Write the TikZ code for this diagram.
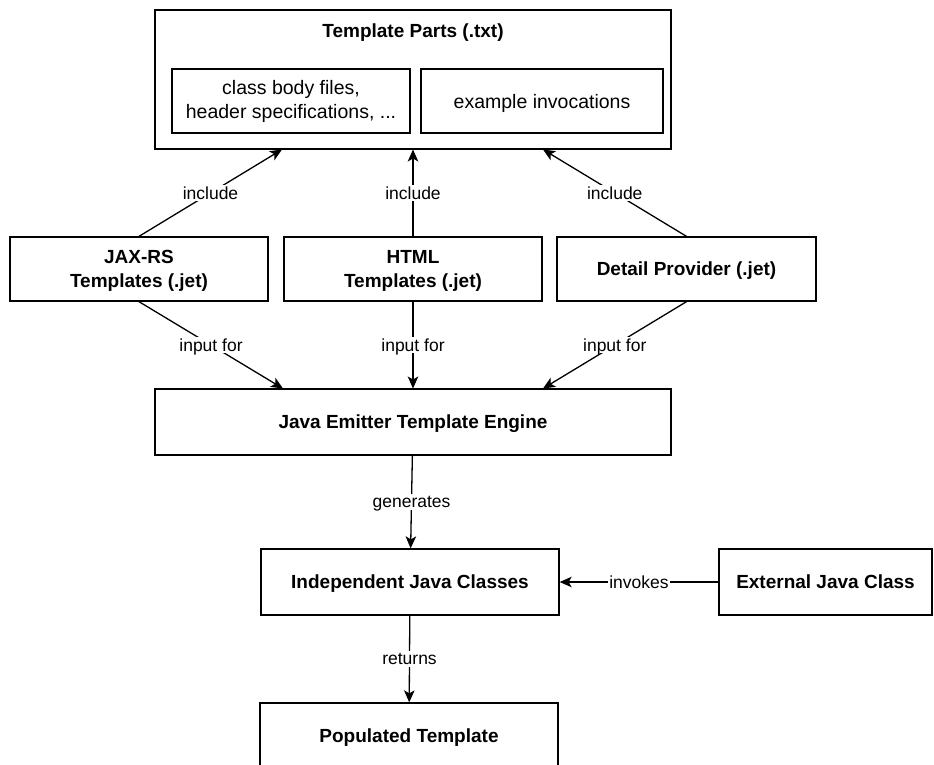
\documentclass[tikz,border=0pt]{standalone}
\usepackage{fontspec}
\setmainfont{Liberation Sans}
\usetikzlibrary{arrows.meta}
\tikzset{
  box/.style={draw=black, line width=1.3pt, fill=white, inner sep=0pt, align=center,
              text depth=0pt, font=\fontsize{19}{23.5}\selectfont\bfseries},
  subbox/.style={draw=black, line width=1.3pt, fill=white, inner sep=0pt, align=center,
              font=\fontsize{19.5}{24}\selectfont},
  link/.style={line width=1.3pt, -{Stealth[length=12pt,width=10.5pt,inset=3pt]}},
  lbl/.style={fill=white, inner sep=2pt, text depth=0pt, font=\fontsize{17.5}{20}\selectfont},
}
\begin{document}
\begin{tikzpicture}[x=1pt,y=-1pt]
\useasboundingbox (0,0) rectangle (934,764);
\clip (0,0) rectangle (934,764);

% template parts container
\node[box, minimum width=516pt, minimum height=139pt] (parts) at (413,79.5) {};
\node[font=\fontsize{19}{23}\selectfont\bfseries, inner sep=0pt] (partstitle) at (413,32.5) {Template Parts (.txt)};
\node[subbox, minimum width=238pt, minimum height=64pt] (bodies) at (291,101)
  {class body files,\\header specifications, ...};
\node[subbox, text depth=0pt, minimum width=242pt, minimum height=64pt] (examples) at (542,101)
  {example invocations};

% template sources
\node[box, minimum width=258pt, minimum height=64pt] (jax) at (139,269) {JAX-RS\\Templates (.jet)};
\node[box, minimum width=258pt, minimum height=64pt] (html) at (413,269) {HTML\\Templates (.jet)};
\node[box, minimum width=259pt, minimum height=64pt] (detail) at (686.5,269) {Detail Provider (.jet)};

% engine and generated classes
\node[box, minimum width=516pt, minimum height=66pt] (engine) at (413,422) {Java Emitter Template Engine};
\node[box, minimum width=298pt, minimum height=66pt] (indep) at (410,582) {Independent Java Classes};
\node[box, minimum width=213pt, minimum height=66pt] (ext) at (825.5,582) {External Java Class};
\node[box, minimum width=298pt, minimum height=66pt] (pop) at (409,736) {Populated Template};

% attachment points
\coordinate (inA) at (282,149.5);
\coordinate (inB) at (413,149.5);
\coordinate (inC) at (543,149.5);
\coordinate (enA) at (283,388.5);
\coordinate (enB) at (413,388.5);
\coordinate (enC) at (543,388.5);

% include
\draw[link] (jax.north) -- node[lbl]{include} (inA);
\draw[link] (html.north) -- node[lbl]{include} (inB);
\draw[link] (detail.north) -- node[lbl]{include} (inC);

% input for
\draw[link] (jax.south) -- node[lbl]{input for} (enA);
\draw[link] (html.south) -- node[lbl]{input for} (enB);
\draw[link] (detail.south) -- node[lbl]{input for} (enC);

% generation and invocation
\draw[link] (engine) -- node[lbl]{generates} (indep);
\draw[link] (indep) -- node[lbl]{returns} (pop);
\draw[link] (ext) -- node[lbl, inner xsep=1pt]{invokes} (indep);
\end{tikzpicture}
\end{document}
